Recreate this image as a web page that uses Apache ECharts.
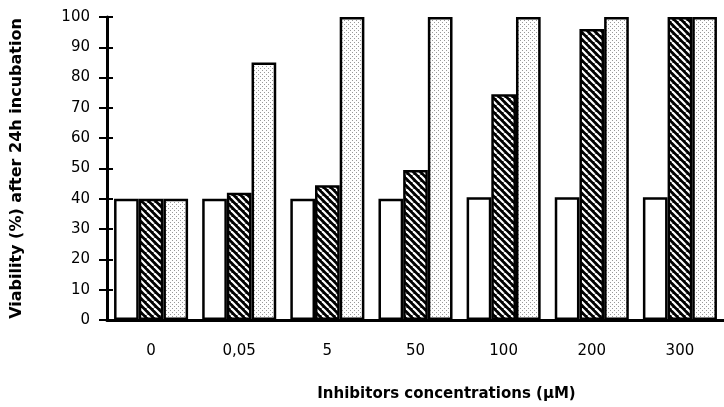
<!DOCTYPE html>
<html>
<head>
<meta charset="utf-8">
<script src="https://cdn.jsdelivr.net/npm/echarts@6/dist/echarts.min.js"></script>
<style>
    html, body { margin: 0; padding: 0; background: #fff; }
    #chart { width: 724px; height: 407px; }
</style>
</head>
<body>
<div id="chart"></div>
<script>
const categories = ['0', '0,05', '5', '50', '100', '200', '300'];
const plainValues = [40, 40, 40, 40, 40.5, 40.5, 40.5];
const hatchedValues = [40, 42, 44.5, 49.5, 74.5, 96, 100];
const dottedValues = [40, 85, 100, 100, 100, 100, 100];
const yTicks = { min: 0, max: 100, interval: 10 };

// black fill with white diagonal stripes
function hatchPattern() {
    const c = document.createElement('canvas');
    c.width = 7; c.height = 7;
    const ctx = c.getContext('2d');
    ctx.fillStyle = '#000';
    ctx.fillRect(0, 0, 7, 7);
    ctx.strokeStyle = '#fff';
    ctx.lineWidth = 2.2;
    [-7, 0, 7].forEach(function (o) {
        ctx.beginPath();
        ctx.moveTo(o, 0);
        ctx.lineTo(o + 7, 7);
        ctx.stroke();
    });
    return c;
}

// light grey stipple
function dotPattern() {
    const c = document.createElement('canvas');
    c.width = 4; c.height = 4;
    const ctx = c.getContext('2d');
    ctx.fillStyle = '#fff';
    ctx.fillRect(0, 0, 4, 4);
    ctx.fillStyle = '#999';
    ctx.fillRect(0, 0, 1, 1);
    ctx.fillRect(2, 2, 1, 1);
    return c;
}

const chart = echarts.init(document.getElementById('chart'));
const font = 'DejaVu Sans';

const barBorder = { borderColor: '#000', borderWidth: 2.5 };

const option = {
    animation: false,
    grid: { left: 107, right: 0, top: 17, bottom: 87 },
    xAxis: [
        {
            type: 'category',
            data: categories,
            name: 'Inhibitors concentrations (\u00b5M)',
            nameLocation: 'middle',
            nameGap: 67,
            nameTextStyle: { fontFamily: font, fontWeight: 'bold', fontSize: 15, color: '#000', padding: [0, 0, 0, 62] },
            axisLine: { lineStyle: { color: '#000', width: 3 } },
            axisTick: { lineStyle: { color: '#000', width: 2 }, length: 8 },
            axisLabel: { fontFamily: font, fontSize: 15, color: '#000', margin: 24 }
        },
        {
            type: 'category',
            data: categories,
            position: 'bottom',
            axisLine: { show: false },
            axisTick: { inside: true, length: 4, lineStyle: { color: '#000', width: 2 } },
            axisLabel: { show: false }
        }
    ],
    yAxis: [
        {
            type: 'value',
            min: yTicks.min,
            max: yTicks.max,
            interval: yTicks.interval,
            name: 'Viability (%) after 24h incubation',
            nameLocation: 'middle',
            nameGap: 82,
            nameTextStyle: { fontFamily: font, fontWeight: 'bold', fontSize: 16, color: '#000' },
            axisLine: { show: true, lineStyle: { color: '#000', width: 3 } },
            axisTick: { show: true, length: 8, lineStyle: { color: '#000', width: 2 } },
            axisLabel: { fontFamily: font, fontSize: 15, color: '#000', margin: 17 },
            splitLine: { show: false }
        },
        {
            type: 'value',
            min: yTicks.min,
            max: yTicks.max,
            interval: yTicks.interval,
            position: 'left',
            axisLine: { show: false },
            axisTick: { show: true, inside: true, length: 6, lineStyle: { color: '#000', width: 2 } },
            axisLabel: { show: false },
            splitLine: { show: false }
        }
    ],
    series: [
        {
            name: 'Plain',
            type: 'bar',
            data: plainValues,
            barGap: '0%',
            barCategoryGap: '16%',
            itemStyle: Object.assign({ color: '#fff' }, barBorder)
        },
        {
            name: 'Hatched',
            type: 'bar',
            data: hatchedValues,
            barGap: '0%',
            barCategoryGap: '16%',
            itemStyle: Object.assign({ color: { image: hatchPattern(), repeat: 'repeat' } }, barBorder)
        },
        {
            name: 'Dotted',
            type: 'bar',
            data: dottedValues,
            barGap: '0%',
            barCategoryGap: '16%',
            itemStyle: Object.assign({ color: { image: dotPattern(), repeat: 'repeat' } }, barBorder)
        }
    ]
};
chart.setOption(option);

window.addEventListener('resize', () => {
    chart.resize()
})
</script>
</body>
</html>
